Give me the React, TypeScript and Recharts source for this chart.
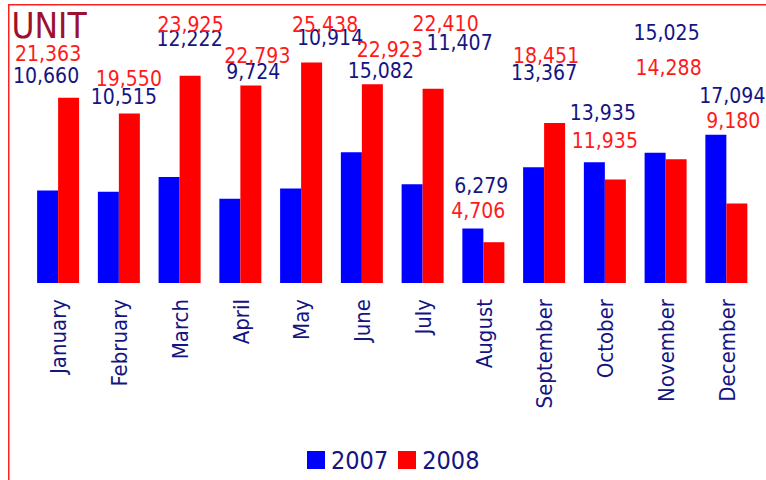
import { BarChart, Bar, XAxis, YAxis, Legend, LabelList } from "recharts";

const months = [
  "January", "February", "March", "April", "May", "June",
  "July", "August", "September", "October", "November", "December",
];
const units2007 = [10660, 10515, 12222, 9724, 10914, 15082, 11407, 6279, 13367, 13935, 15025, 17094];
const units2008 = [21363, 19550, 23925, 22793, 25438, 22923, 22410, 4706, 18451, 11935, 14288, 9180];

// hand-placed value labels: [dx from month centre, dy from bar top]
const nudge2007 = [
  [-12, -108], [5, -88], [10, -131], [13, -120], [29, -143], [19, -74],
  [37, -134], [-2, -36], [0, -87], [-2, -42], [1, -113], [6, -32],
];
const nudge2008 = [
  [-10, -37], [10, -28], [11, -44], [17, -22], [24, -31], [28, -27],
  [23, -58], [-5, -24], [2, -60], [0, -32], [3, -84], [7, -75],
];

const data = months.map((month, i) => ({ month, y2007: units2007[i], y2008: units2008[i] }));

const FONT = "'DejaVu Sans Condensed', 'DejaVu Sans', sans-serif";
const NAVY = "#141482";
const RED = "#ff1a1a";

function valueLabel(nudges: number[][], color: string, leftBar: boolean) {
  return (props: any) => {
    const vb = props.viewBox ?? props;
    const idx = props.index ?? 0;
    const centre = leftBar ? vb.x + vb.width : vb.x;
    const [dx, dy] = nudges[idx];
    return (
      <text
        x={centre + dx}
        y={vb.y + dy}
        textAnchor="middle"
        fill={color}
        fontFamily={FONT}
        fontSize={21}
      >
        {Number(props.value).toLocaleString("en-US")}
      </text>
    );
  };
}

function MonthTick({ x, y, payload }: any) {
  return (
    <text
      transform={`translate(${x},${y}) rotate(-90)`}
      textAnchor="end"
      dy="0.36em"
      fill={NAVY}
      fontFamily={FONT}
      fontSize={22}
    >
      {payload.value}
    </text>
  );
}

function LegendRow({ payload }: any) {
  return (
    <div style={{ display: "flex", alignItems: "center", height: 40, paddingLeft: 307, fontFamily: FONT }}>
      {(payload ?? []).map((item: any) => (
        <div key={item.value} style={{ display: "flex", alignItems: "center", marginRight: 10 }}>
          <span style={{ width: 18, height: 18, background: item.color, display: "inline-block", marginRight: 6 }} />
          <span style={{ fontSize: 25, color: NAVY, lineHeight: "25px" }}>{item.value}</span>
        </div>
      ))}
    </div>
  );
}

export default function App() {
  return (
    <div style={{ position: "absolute", left: 0, top: 0, width: 766, height: 480, background: "#fff", overflow: "hidden" }}>
      <svg width={766} height={480} style={{ position: "absolute", left: 0, top: 0 }}>
        <rect x={8.75} y={4.75} width={800} height={520} fill="none" stroke="#ff2020" strokeWidth={1.5} />
        <text x={11.5} y={37.5} fill="#9e1030" fontFamily={FONT} fontSize={35}>
          UNIT
        </text>
      </svg>
      <div style={{ position: "absolute", left: 0, top: 0 }}>
        <BarChart
          width={766}
          height={480}
          data={data}
          margin={{ top: 23, right: 9, left: 28, bottom: 0 }}
          barCategoryGap="15%"
          barGap={0}
        >
          <XAxis
            dataKey="month"
            interval={0}
            axisLine={false}
            tickLine={false}
            tickSize={0}
            tickMargin={16}
            height={157}
            tick={<MonthTick />}
          />
          <YAxis hide domain={[0, 30000]} />
          <Legend
            verticalAlign="bottom"
            content={<LegendRow />}
            wrapperStyle={{ left: 0, width: 766, bottom: 0 }}
          />
          <Bar dataKey="y2007" name="2007" fill="#0000ff" isAnimationActive={false}>
            <LabelList dataKey="y2007" content={valueLabel(nudge2007, NAVY, true)} />
          </Bar>
          <Bar dataKey="y2008" name="2008" fill="#ff0000" isAnimationActive={false}>
            <LabelList dataKey="y2008" content={valueLabel(nudge2008, RED, false)} />
          </Bar>
        </BarChart>
      </div>
    </div>
  );
}
